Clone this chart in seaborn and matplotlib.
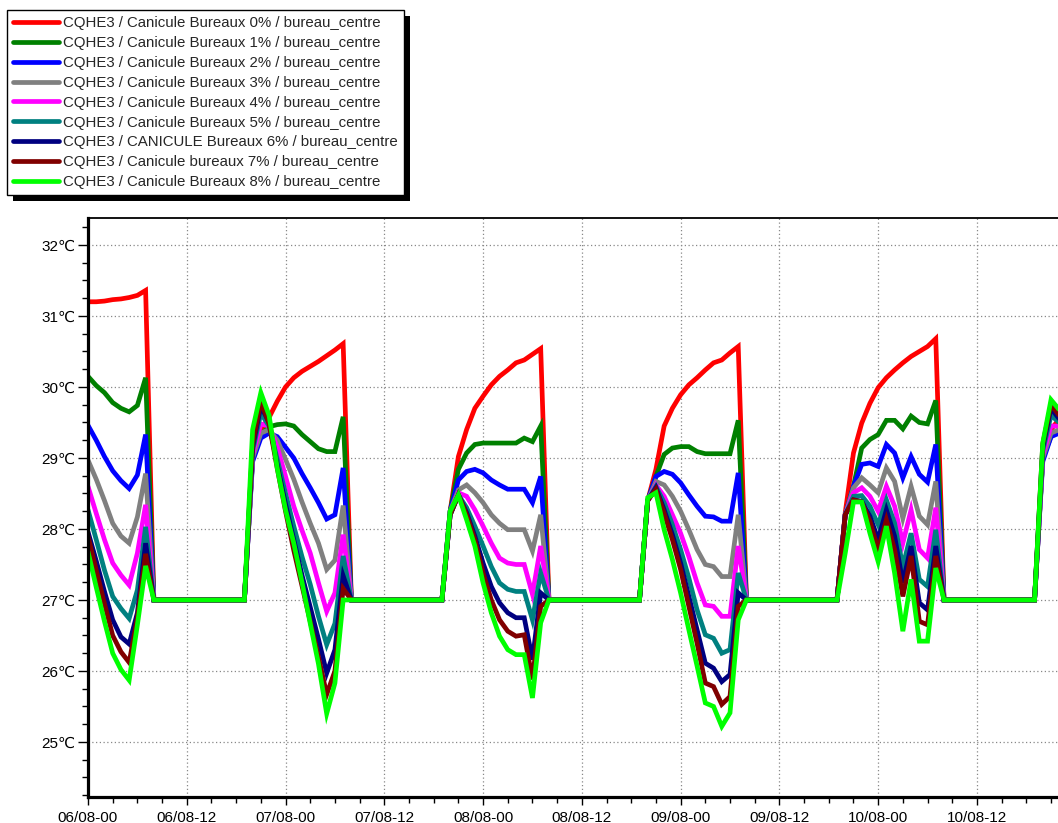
import numpy as np
import pandas as pd
import matplotlib
matplotlib.use("Agg")
import matplotlib.pyplot as plt
from matplotlib.lines import Line2D
from matplotlib.patches import Rectangle
import seaborn as sns

# ---------------- data ----------------
LABELS = [
    "CQHE3 / Canicule Bureaux 0% / bureau_centre",
    "CQHE3 / Canicule Bureaux 1% / bureau_centre",
    "CQHE3 / Canicule Bureaux 2% / bureau_centre",
    "CQHE3 / Canicule Bureaux 3% / bureau_centre",
    "CQHE3 / Canicule Bureaux 4% / bureau_centre",
    "CQHE3 / Canicule Bureaux 5% / bureau_centre",
    "CQHE3 / CANICULE Bureaux 6% / bureau_centre",
    "CQHE3 / Canicule bureaux 7% / bureau_centre",
    "CQHE3 / Canicule Bureaux 8% / bureau_centre",
]
COLORS = ["#FF0000", "#008000", "#0000FF", "#808080", "#FF00FF",
          "#008080", "#000080", "#800000", "#00FF00"]

FLAT = [27.0] * 12  # controlled hours 08..19 each day

# hourly values, hour 0 = 06/08-00
S0 = ([31.20, 31.20, 31.21, 31.23, 31.24, 31.26, 31.29, 31.36] + FLAT +
      [29.00, 29.40, 29.57, 29.80, 30.00, 30.13, 30.22, 30.29, 30.36, 30.44, 30.52, 30.61] + FLAT +
      [28.25, 29.02, 29.40, 29.70, 29.87, 30.03, 30.15, 30.24, 30.34, 30.38, 30.46, 30.54] + FLAT +
      [28.40, 28.84, 29.45, 29.70, 29.89, 30.03, 30.13, 30.24, 30.34, 30.38, 30.48, 30.57] + FLAT +
      [28.23, 29.07, 29.49, 29.77, 29.99, 30.13, 30.24, 30.34, 30.43, 30.50, 30.57, 30.68] + FLAT +
      [29.00, 29.40, 29.55])
S1 = ([30.15, 30.02, 29.92, 29.78, 29.70, 29.65, 29.74, 30.13] + FLAT +
      [29.00, 29.33, 29.44, 29.47, 29.48, 29.45, 29.33, 29.23, 29.13, 29.09, 29.09, 29.58] + FLAT +
      [28.25, 28.84, 29.07, 29.19, 29.21, 29.21, 29.21, 29.21, 29.21, 29.28, 29.23, 29.45] + FLAT +
      [28.40, 28.74, 29.05, 29.14, 29.16, 29.16, 29.09, 29.06, 29.06, 29.06, 29.06, 29.53] + FLAT +
      [28.20, 28.60, 29.14, 29.26, 29.33, 29.53, 29.53, 29.41, 29.59, 29.50, 29.48, 29.81] + FLAT +
      [29.00, 29.30, 29.40])
S2 = ([29.46, 29.25, 29.02, 28.82, 28.68, 28.57, 28.76, 29.33] + FLAT +
      [28.95, 29.28, 29.35, 29.30, 29.15, 29.00, 28.78, 28.58, 28.37, 28.14, 28.20, 28.86] + FLAT +
      [28.25, 28.69, 28.81, 28.84, 28.79, 28.69, 28.62, 28.56, 28.56, 28.56, 28.37, 28.74] + FLAT +
      [28.40, 28.74, 28.81, 28.77, 28.65, 28.48, 28.32, 28.18, 28.17, 28.11, 28.11, 28.79] + FLAT +
      [28.20, 28.60, 28.91, 28.93, 28.88, 29.19, 29.07, 28.72, 29.02, 28.77, 28.66, 29.19] + FLAT +
      [28.95, 29.30, 29.35])
S3 = ([28.97, 28.70, 28.40, 28.08, 27.90, 27.80, 28.17, 28.78] + FLAT +
      [29.00, 29.35, 29.40, 29.25, 28.98, 28.70, 28.38, 28.08, 27.80, 27.43, 27.56, 28.33] + FLAT +
      [28.25, 28.55, 28.62, 28.51, 28.37, 28.20, 28.08, 27.99, 27.99, 27.99, 27.69, 28.20] + FLAT +
      [28.40, 28.67, 28.62, 28.46, 28.25, 27.99, 27.71, 27.50, 27.47, 27.33, 27.33, 28.20] + FLAT +
      [28.20, 28.58, 28.72, 28.62, 28.51, 28.86, 28.67, 28.15, 28.60, 28.18, 28.06, 28.67] + FLAT +
      [29.00, 29.35, 29.40])
S4 = ([28.60, 28.22, 27.85, 27.52, 27.35, 27.21, 27.66, 28.34] + FLAT +
      [29.05, 29.48, 29.45, 29.15, 28.74, 28.32, 27.98, 27.66, 27.24, 26.84, 27.10, 27.92] + FLAT +
      [28.20, 28.51, 28.46, 28.27, 28.04, 27.80, 27.59, 27.52, 27.50, 27.50, 27.08, 27.76] + FLAT +
      [28.40, 28.62, 28.46, 28.20, 27.94, 27.61, 27.24, 26.93, 26.91, 26.77, 26.77, 27.76] + FLAT +
      [28.20, 28.51, 28.58, 28.46, 28.25, 28.60, 28.32, 27.80, 28.27, 27.71, 27.59, 28.30] + FLAT +
      [29.05, 29.45, 29.45])
S5 = ([28.27, 27.85, 27.42, 27.05, 26.88, 26.74, 27.14, 28.03] + FLAT +
      [29.10, 29.63, 29.45, 28.98, 28.50, 28.04, 27.61, 27.22, 26.77, 26.37, 26.67, 27.62] + FLAT +
      [28.20, 28.48, 28.30, 28.04, 27.76, 27.47, 27.24, 27.15, 27.12, 27.12, 26.72, 27.38] + FLAT +
      [28.40, 28.60, 28.37, 28.06, 27.71, 27.31, 26.86, 26.51, 26.46, 26.25, 26.30, 27.38] + FLAT +
      [28.20, 28.46, 28.47, 28.32, 28.06, 28.41, 28.08, 27.47, 27.94, 27.29, 27.19, 27.99] + FLAT +
      [29.10, 29.60, 29.50])
S6 = ([27.96, 27.55, 27.12, 26.72, 26.48, 26.38, 26.82, 27.80] + FLAT +
      [29.15, 29.73, 29.50, 28.90, 28.35, 27.85, 27.35, 26.90, 26.45, 25.97, 26.30, 27.34] + FLAT +
      [28.20, 28.48, 28.23, 27.90, 27.52, 27.19, 26.96, 26.82, 26.75, 26.75, 26.16, 27.10] + FLAT +
      [28.40, 28.58, 28.27, 27.92, 27.52, 27.05, 26.58, 26.11, 26.04, 25.85, 25.95, 27.10] + FLAT +
      [28.20, 28.41, 28.39, 28.18, 27.85, 28.27, 27.90, 27.24, 27.76, 26.96, 26.86, 27.76] + FLAT +
      [29.15, 29.70, 29.55])
S7 = ([27.90, 27.42, 26.95, 26.50, 26.27, 26.12, 26.75, 27.65] + FLAT +
      [29.20, 29.80, 29.48, 28.85, 28.25, 27.70, 27.20, 26.70, 26.20, 25.67, 26.00, 27.16] + FLAT +
      [28.20, 28.48, 28.20, 27.85, 27.38, 27.00, 26.72, 26.56, 26.49, 26.51, 25.88, 26.91] + FLAT +
      [28.40, 28.56, 28.22, 27.85, 27.43, 26.91, 26.39, 25.83, 25.78, 25.53, 25.64, 26.91] + FLAT +
      [28.20, 28.41, 28.38, 28.11, 27.71, 28.13, 27.71, 27.05, 27.62, 26.70, 26.65, 27.62] + FLAT +
      [29.20, 29.75, 29.60])
S8 = ([27.68, 27.18, 26.70, 26.25, 26.02, 25.87, 26.65, 27.48] + FLAT +
      [29.40, 29.92, 29.60, 28.85, 28.27, 27.80, 27.25, 26.67, 26.10, 25.40, 25.83, 27.00] + FLAT +
      [28.25, 28.48, 28.13, 27.76, 27.24, 26.82, 26.49, 26.30, 26.23, 26.23, 25.62, 26.68] + FLAT +
      [28.44, 28.51, 27.99, 27.57, 27.10, 26.58, 26.07, 25.55, 25.50, 25.22, 25.41, 26.72] + FLAT +
      [27.66, 28.38, 28.38, 27.94, 27.54, 28.04, 27.38, 26.56, 27.29, 26.42, 26.42, 27.45] + FLAT +
      [29.21, 29.82, 29.68])
SERIES = [S0, S1, S2, S3, S4, S5, S6, S7, S8]

X_TICK_LABELS = ["06/08-00", "06/08-12", "07/08-00", "07/08-12", "08/08-00",
                 "08/08-12", "09/08-00", "09/08-12", "10/08-00", "10/08-12"]
Y_TICKS = [25, 26, 27, 28, 29, 30, 31, 32]

# ---------------- build frame ----------------
rows = []
for lab, vals in zip(LABELS, SERIES):
    for h, v in enumerate(vals):
        rows.append((lab, h, v))
df = pd.DataFrame(rows, columns=["series", "hour", "temp"])

# ---------------- figure ----------------
sns.set_style("white")
plt.rcParams["font.family"] = ["Liberation Sans", "DejaVu Sans"]

W, H, DPI = 1058, 823, 100
fig = plt.figure(figsize=(W / DPI, H / DPI), dpi=DPI)
left_px, right_px, top_px, bot_px = 88, 1058, 218, 797
ax = fig.add_axes([left_px / W, 1 - bot_px / H, (right_px - left_px) / W,
                   (bot_px - top_px) / H])

sns.lineplot(data=df, x="hour", y="temp", hue="series", hue_order=LABELS,
             palette=COLORS, linewidth=3.4, legend=False, sort=False, ax=ax,
             estimator=None)
for ln in ax.get_lines():
    ln.set_solid_joinstyle("miter")

ax.set_xlim(0, 117.85)
ax.set_ylim(24.225, 32.38)

ax.set_xticks(np.arange(0, 12 * len(X_TICK_LABELS), 12))
ax.set_xticklabels(X_TICK_LABELS)
ax.set_xticks(np.arange(0, 118, 3), minor=True)
ax.set_yticks(Y_TICKS)
ax.set_yticklabels([f"{t}\u2103" for t in Y_TICKS])
ax.set_yticks(np.arange(24.25, 32.4, 0.25), minor=True)
ax.set_xlabel("")
ax.set_ylabel("")

ax.tick_params(axis="both", which="both", direction="out", colors="black",
               labelsize=11, width=1.0)
ax.tick_params(axis="x", which="major", length=6, pad=4)
ax.tick_params(axis="x", which="minor", length=4.3)
ax.tick_params(axis="y", which="major", length=7, pad=2)
ax.tick_params(axis="y", which="minor", length=4)
ax.xaxis.set_ticks_position("bottom")
ax.yaxis.set_ticks_position("left")

ax.grid(True, which="major", linestyle=(0, (1, 2)), color="#888888", linewidth=0.9)
ax.set_axisbelow(True)

for side in ["left", "bottom"]:
    ax.spines[side].set_linewidth(2.3)
    ax.spines[side].set_color("black")
ax.spines["top"].set_linewidth(1.3)
ax.spines["top"].set_color("black")
ax.spines["right"].set_visible(False)

handles = [Line2D([0], [0], color=c, linewidth=3.4) for c in COLORS]
leg = fig.legend(handles, LABELS, loc="upper left",
                 bbox_to_anchor=(7 / W, 1 - 10 / H), bbox_transform=fig.transFigure,
                 frameon=True, fancybox=False, edgecolor="black", framealpha=1,
                 fontsize=10.8, handlelength=3.07, handletextpad=0.27,
                 labelspacing=0.39, borderpad=0.42, borderaxespad=0)
leg.get_frame().set_linewidth(1.0)
leg.set_zorder(10)

fig.canvas.draw()
bb = leg.get_window_extent()
shadow = Rectangle((bb.x0 + 6, bb.y0 - 6), bb.width, bb.height,
                   transform=None, facecolor="black", edgecolor="none", zorder=9)
fig.patches.append(shadow)

fig.savefig("out.png", dpi=DPI)
